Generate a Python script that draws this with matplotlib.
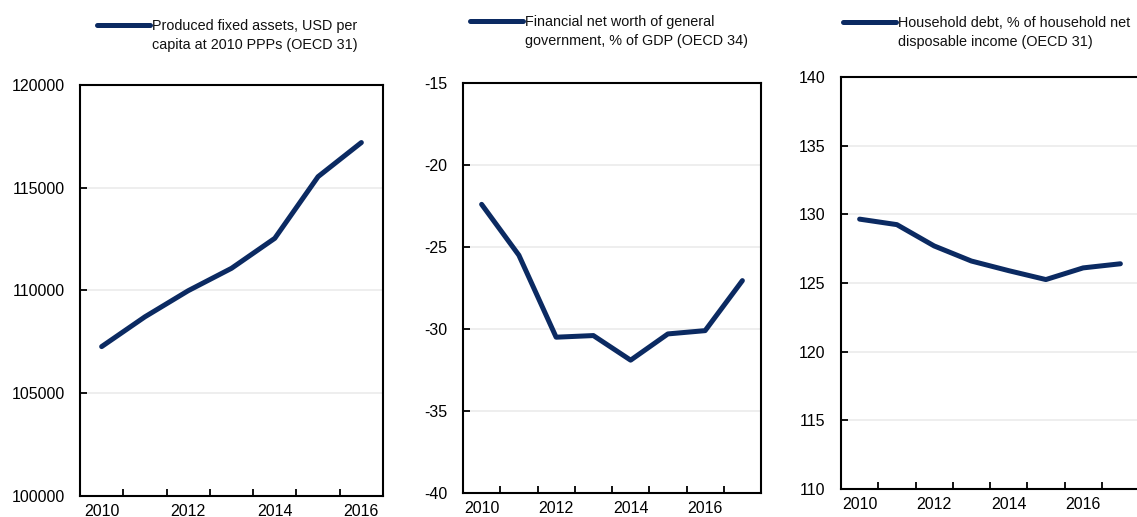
import matplotlib.pyplot as plt
from matplotlib.lines import Line2D
import numpy as np

plt.rcParams['font.family'] = ['Liberation Sans', 'DejaVu Sans']

# data
years_a = ['2010', '2011', '2012', '2013', '2014', '2015', '2016']
years_b = ['2010', '2011', '2012', '2013', '2014', '2015', '2016', '2017']
fixed_assets = [107270, 108720, 109990, 111080, 112540, 115540, 117200]
gov_net_worth = [-22.4, -25.5, -30.5, -30.4, -31.9, -30.3, -30.1, -27.05]
household_debt = [129.65, 129.25, 127.7, 126.6, 125.9, 125.25, 126.1, 126.4]

titles = ['Produced fixed assets, USD per\ncapita at 2010 PPPs (OECD 31)',
          'Financial net worth of general\ngovernment, % of GDP (OECD 34)',
          'Household debt, % of household net\ndisposable income (OECD 31)']

W, H = 1137, 517
navy = '#0b2a62'
fig = plt.figure(figsize=(W / 100, H / 100), dpi=100)

# axes boxes in pixels: left, top, right, bottom
boxes = [(80, 85, 383, 496), (463, 83, 761, 493), (841, 77, 1139, 489)]
ylims = [(100000, 120000), (-40, -15), (110, 140)]
ysteps = [5000, 5, 5]
series = [(years_a, fixed_assets), (years_b, gov_net_worth), (years_b, household_debt)]
# legend anchor (line start x, first text line y) in pixels
legpos = [(97, 25), (470, 21), (843, 22)]

for i in range(3):
    l, t, r, b = boxes[i]
    ax = fig.add_axes([l / W, (H - b) / H, (r - l) / W, (b - t) / H])
    cats, vals = series[i]
    n = len(cats)
    x = np.arange(n)
    lo, hi = ylims[i]
    yt = np.arange(lo, hi + 1, ysteps[i])
    for v in yt[1:-1]:
        ax.axhline(v, color='#ebebeb', lw=1.2, zorder=0)
    ax.plot(x, vals, color=navy, lw=3.6, solid_capstyle='round', solid_joinstyle='round')
    ax.set_xlim(-0.5, n - 0.5)
    ax.set_ylim(lo, hi)
    ax.set_yticks(yt)
    ax.set_yticklabels([str(int(v)) for v in yt])
    ax.set_xticks(np.arange(0.5, n - 0.5), minor=False)
    ax.set_xticklabels([])
    ax.set_xticks(x[::2], minor=True)
    ax.set_xticklabels(cats[::2], minor=True)
    ax.tick_params(axis='x', which='major', direction='in', length=5, width=1.3)
    ax.tick_params(axis='x', which='minor', length=0, pad=6, labelsize=11.5)
    ax.tick_params(axis='y', direction='in', length=5, width=1.3, pad=11, labelsize=11.5)
    for s in ax.spines.values():
        s.set_linewidth(1.5)
        s.set_color('black')

    lx, ly = legpos[i]
    fig.add_artist(Line2D([lx / W, (lx + 53) / W], [1 - ly / H, 1 - ly / H],
                          color=navy, lw=3.6, solid_capstyle='round'))
    fig.text((lx + 55) / W, 1 - (ly - 6) / H, titles[i], ha='left', va='top',
             fontsize=10.4, linespacing=1.42, color='#111111')

fig.savefig('out.png', dpi=100)
